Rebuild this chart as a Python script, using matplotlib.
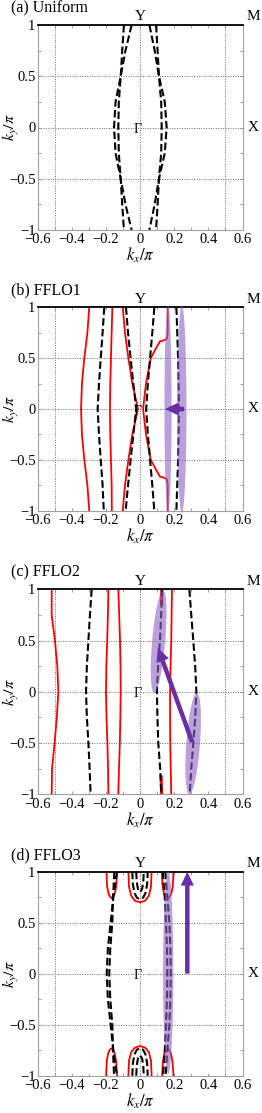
import matplotlib
matplotlib.use('Agg')
import matplotlib.pyplot as plt
import numpy as np
from matplotlib.patches import Polygon, FancyArrowPatch

plt.rcParams['font.family'] = ['Liberation Serif', 'DejaVu Serif']
plt.rcParams['mathtext.fontset'] = 'stix'
plt.rcParams['axes.unicode_minus'] = True

# ---------------- data ----------------
panel_titles = ['(a) Uniform', '(b) FFLO1', '(c) FFLO2', '(d) FFLO3']
xtick_vals = [-0.6, -0.4, -0.2, 0.0, 0.2, 0.4, 0.6]
xtick_labels = ['\u22120.6', '\u22120.4', '\u22120.2', '0', '0.2', '0.4', '0.6']
xminor_vals = [-0.5, -0.3, -0.1, 0.1, 0.3, 0.5]
ytick_vals = [-1.0, -0.5, 0.0, 0.5, 1.0]
ytick_labels = ['\u22121', '\u22120.5', '0', '0.5', '1']
yminor_vals = [-0.75, -0.25, 0.25, 0.75]
grid_vals = [-0.5, 0.0, 0.5]

KY = [1.0, 0.75, 0.5, 0.25, 0.0, -0.25, -0.5, -0.75, -1.0]

# (a) Uniform : dashed curves, kx at KY
a_dash = [
    [-0.049, -0.085, -0.113, -0.143, -0.152, -0.143, -0.113, -0.085, -0.049],
    [-0.094, -0.104, -0.113, -0.124, -0.127, -0.124, -0.113, -0.104, -0.094],
    [0.055, 0.086, 0.111, 0.145, 0.156, 0.145, 0.111, 0.086, 0.055],
    [0.094, 0.103, 0.111, 0.124, 0.127, 0.124, 0.111, 0.103, 0.094],
]

# (b) FFLO1
b_red = [
    [-0.297, -0.308, -0.326, -0.340, -0.345, -0.340, -0.326, -0.308, -0.297],
    [-0.162, -0.166, -0.170, -0.174, -0.176, -0.174, -0.170, -0.166, -0.165],
    [-0.101, -0.088, -0.068, -0.045, -0.012, -0.045, -0.068, -0.088, -0.101],
]
b_red4_ky = [1.0, 0.74, 0.69, 0.675, 0.665, 0.61, 0.5, 0.25, 0.0,
             -0.25, -0.5, -0.61, -0.665, -0.675, -0.69, -0.74, -1.0]
b_red4_kx = [0.162, 0.162, 0.157, 0.140, 0.117, 0.098, 0.063, 0.035, 0.018,
             0.035, 0.063, 0.098, 0.117, 0.140, 0.157, 0.162, 0.162]
b_dash = [
    [-0.209, -0.219, -0.230, -0.240, -0.248, -0.240, -0.230, -0.219, -0.212],
    [-0.082, -0.070, -0.055, -0.039, -0.022, -0.039, -0.055, -0.070, -0.084],
    [0.084, 0.072, 0.059, 0.046, 0.036, 0.046, 0.059, 0.072, 0.084],
    [0.213, 0.218, 0.223, 0.226, 0.228, 0.226, 0.223, 0.218, 0.213],
]
# shaded ellipses: (end1, end2, horizontal half-width in kx)
b_ellipses = [((0.164, 1.02), (0.164, -1.02), 0.021),
              ((0.245, 1.02), (0.245, -1.02), 0.027)]
b_arrow = ((0.258, 0.0), (0.146, 0.0))

# (c) FFLO2
c_red = [
    [-0.517, -0.517, -0.498, -0.484, -0.478, -0.487, -0.500, -0.515, -0.517],
    [-0.185, -0.188, -0.192, -0.197, -0.199, -0.196, -0.191, -0.187, -0.185],
    [-0.127, -0.122, -0.117, -0.114, -0.113, -0.115, -0.118, -0.123, -0.127],
    [0.187, 0.185, 0.183, 0.179, 0.176, 0.176, 0.177, 0.180, 0.183],
]
c_red_top_ky = [1.0, 0.92, 0.86]
c_red_top_kx = [0.128, 0.127, 0.126]
c_red_bot_ky = [-0.83, -0.92, -1.0]
c_red_bot_kx = [0.124, 0.125, 0.126]
c_dash = [
    [-0.283, -0.293, -0.302, -0.311, -0.316, -0.311, -0.302, -0.295, -0.289],
    [0.129, 0.124, 0.117, 0.106, 0.099, 0.102, 0.107, 0.118, 0.125],
    [0.289, 0.300, 0.312, 0.323, 0.330, 0.323, 0.312, 0.300, 0.291],
]
c_ellipses = [((0.135, 0.99), (0.083, -0.01), 0.038),
              ((0.333, -0.01), (0.289, -1.0), 0.040)]
c_arrow = ((0.305, -0.49), (0.105, 0.43))

# (d) FFLO3
d_dash = [
    [-0.135, -0.156, -0.172, -0.188, -0.195, -0.188, -0.172, -0.156, -0.135],
    [-0.150, -0.158, -0.162, -0.174, -0.180, -0.174, -0.162, -0.158, -0.152],
    [0.133, 0.145, 0.152, 0.158, 0.160, 0.158, 0.152, 0.145, 0.135],
    [0.148, 0.160, 0.172, 0.178, 0.180, 0.178, 0.172, 0.160, 0.150],
]
d_redU_top = [
    ([-0.196, -0.193, -0.185, -0.176, -0.166, -0.156, -0.147, -0.139, -0.134],
     [1.0, 0.86, 0.79, 0.755, 0.74, 0.755, 0.79, 0.86, 1.0]),
    ([-0.068, -0.064, -0.052, -0.030, 0.0, 0.030, 0.052, 0.064, 0.068],
     [1.0, 0.85, 0.765, 0.715, 0.70, 0.715, 0.765, 0.85, 1.0]),
    ([0.128, 0.132, 0.140, 0.150, 0.162, 0.174, 0.184, 0.192, 0.196],
     [1.0, 0.86, 0.79, 0.755, 0.74, 0.755, 0.79, 0.86, 1.0]),
]
d_redU_bot = [
    ([-0.198, -0.195, -0.187, -0.178, -0.168, -0.158, -0.148, -0.140, -0.134],
     [-1.0, -0.86, -0.785, -0.748, -0.732, -0.748, -0.785, -0.86, -1.0]),
    ([-0.068, -0.064, -0.052, -0.030, 0.0, 0.030, 0.052, 0.064, 0.068],
     [-1.0, -0.85, -0.77, -0.725, -0.709, -0.725, -0.77, -0.85, -1.0]),
    ([0.130, 0.134, 0.142, 0.152, 0.162, 0.172, 0.182, 0.190, 0.196],
     [-1.0, -0.86, -0.785, -0.748, -0.732, -0.748, -0.785, -0.86, -1.0]),
]
d_dashU_top = [
    ([-0.045, -0.042, -0.032, -0.018, 0.0, 0.018, 0.032, 0.042, 0.045],
     [1.0, 0.88, 0.79, 0.745, 0.73, 0.745, 0.79, 0.88, 1.0]),
    ([-0.022, -0.019, -0.012, 0.0, 0.012, 0.019, 0.022],
     [1.0, 0.90, 0.83, 0.80, 0.83, 0.90, 1.0]),
]
d_dashU_bot = [
    ([-0.045, -0.042, -0.032, -0.018, 0.0, 0.018, 0.032, 0.042, 0.045],
     [-1.0, -0.88, -0.79, -0.745, -0.73, -0.745, -0.79, -0.88, -1.0]),
    ([-0.022, -0.019, -0.012, 0.0, 0.012, 0.019, 0.022],
     [-1.0, -0.90, -0.83, -0.80, -0.83, -0.90, -1.0]),
]
d_ellipses = [((0.165, 1.0), (0.165, -0.98), 0.030)]
d_arrow = ((0.277, 0.0), (0.277, 1.0))

# ---------------- styling ----------------
RED = '#ff0000'
SHADE = '#8e63c4'
ARROW = '#6a2fa3'
SPINE_GRAY = '#a0a0a0'

fig = plt.figure(figsize=(2.62, 11.13), dpi=100)
W, H = 262.0, 1113.0
ax_left, ax_w = 37.5 / W, 205.0 / W
panel_px = [(25.0, 230.0), (307.3, 510.7), (589.3, 794.3), (871.7, 1075.7)]
axes = []
for top, bot in panel_px:
    ax = fig.add_axes([ax_left, (H - bot) / H, ax_w, (bot - top) / H])
    axes.append(ax)


def setup(ax, title):
    ax.set_xlim(-0.6, 0.6)
    ax.set_ylim(-1, 1)
    for g in grid_vals:
        ax.axvline(g, color='#6a6a6a', lw=0.7, ls=(0, (1, 1.5)), zorder=0)
        ax.axhline(g, color='#6a6a6a', lw=0.7, ls=(0, (1, 1.5)), zorder=0)
    ax.set_xticks(xtick_vals)
    ax.set_xticklabels(xtick_labels)
    ax.set_xticks(xminor_vals, minor=True)
    ax.set_yticks(ytick_vals)
    ax.set_yticklabels(ytick_labels)
    ax.set_yticks(yminor_vals, minor=True)
    ax.tick_params(which='both', direction='in', length=2.5, width=0.6,
                   color='#909090', labelsize=10.5, top=True, right=True)
    ax.tick_params(axis='x', pad=2.5)
    ax.tick_params(axis='y', pad=1.5)
    for s in ['left', 'right', 'bottom']:
        ax.spines[s].set_color(SPINE_GRAY)
        ax.spines[s].set_linewidth(0.8)
    ax.spines['top'].set_color('black')
    ax.spines['top'].set_linewidth(1.3)
    ax.set_xlabel(r'$k_x/\pi$', fontsize=12)
    ax.xaxis.set_label_coords(0.5, -0.078)
    ax.set_ylabel(r'$k_y/\pi$', fontsize=11.5)
    ax.yaxis.set_label_coords(-0.08, 0.5)
    ax.text(-0.128, 1.082, title, transform=ax.transAxes, fontsize=11.5,
            ha='left', va='center')
    ax.text(0.5, 1.008, 'Y', transform=ax.transAxes, fontsize=11,
            ha='center', va='bottom')
    ax.text(1.052, 1.008, 'M', transform=ax.transAxes, fontsize=11,
            ha='center', va='bottom')
    ax.text(1.052, 0.5, 'X', transform=ax.transAxes, fontsize=11,
            ha='center', va='center')
    ax.text(-0.012, -0.02, '\u0393', fontsize=10, ha='center', va='center')


def dashed(ax, xs, ys):
    ax.plot(xs, ys, color='black', lw=1.5, ls='--', dashes=(3.6, 1.6), zorder=2)


def red(ax, xs, ys):
    ax.plot(xs, ys, color=RED, lw=1.3, zorder=2)


def shade(ax, p1, p2, half_w):
    t = ax.transData
    a = t.transform(p1)
    b = t.transform(p2)
    c = (a + b) / 2
    u = (b - a) / 2
    L = np.hypot(u[0], u[1])
    n = np.array([-u[1], u[0]]) / L
    sx = t.transform((half_w, 0))[0] - t.transform((0, 0))[0]
    v = n * sx
    th = np.linspace(0, 2 * np.pi, 240)
    pts = c + np.outer(np.cos(th), u) + np.outer(np.sin(th), v)
    dpts = t.inverted().transform(pts)
    ax.add_patch(Polygon(dpts, closed=True, facecolor=SHADE, alpha=0.6,
                         edgecolor='none', zorder=3, clip_on=False))


def arrow(ax, tail, tip):
    ax.add_patch(FancyArrowPatch(posA=tail, posB=tip,
                                 arrowstyle='simple,head_width=0.95,head_length=1.0,tail_width=0.32',
                                 mutation_scale=10, color=ARROW, shrinkA=0,
                                 shrinkB=0, zorder=5, lw=0))


for ax, title in zip(axes, panel_titles):
    setup(ax, title)

# (a)
ax = axes[0]
for xs in a_dash:
    dashed(ax, xs, KY)

# (b)
ax = axes[1]
for xs in b_red:
    red(ax, xs, KY)
red(ax, b_red4_kx, b_red4_ky)
for xs in b_dash:
    dashed(ax, xs, KY)
for p1, p2, w in b_ellipses:
    shade(ax, p1, p2, w)
arrow(ax, *b_arrow)

# (c)
ax = axes[2]
for xs in c_red:
    red(ax, xs, KY)
ax.plot(c_red_top_kx, c_red_top_ky, color=RED, lw=2.2, zorder=2)
ax.plot(c_red_bot_kx, c_red_bot_ky, color=RED, lw=2.2, zorder=2)
for xs in c_dash:
    dashed(ax, xs, KY)
for p1, p2, w in c_ellipses:
    shade(ax, p1, p2, w)
arrow(ax, *c_arrow)

# (d)
ax = axes[3]
for xs, ys in d_redU_top + d_redU_bot:
    red(ax, xs, ys)
for xs in d_dash:
    dashed(ax, xs, KY)
for xs, ys in d_dashU_top + d_dashU_bot:
    dashed(ax, xs, ys)
for p1, p2, w in d_ellipses:
    shade(ax, p1, p2, w)
arrow(ax, *d_arrow)

fig.savefig('out.png', dpi=100)
